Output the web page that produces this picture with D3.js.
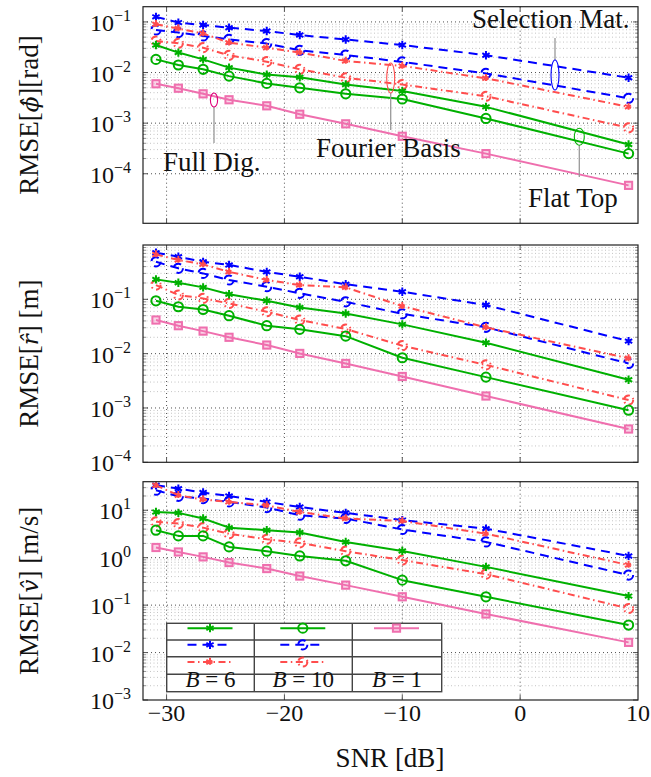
<!DOCTYPE html>
<html>
<head>
<meta charset="utf-8">
<script src="https://cdn.jsdelivr.net/npm/d3@7"></script>
<style>
    body { margin: 0; background: #fff; }
    svg { display: block; }
    text { font-family: "Liberation Serif", "Times New Roman", serif; fill: #111; }
</style>
</head>
<body>
<svg id="chart" width="651" height="777"></svg>
<script>
// SNR points (dB)
var snr = [-30.9, -29, -26.9, -24.7, -21.5, -18.7, -14.8, -10, -2.9, 9.2];

// RMSE of phi [rad]
var phiFlat6 = [0.035, 0.0248, 0.0182, 0.0125, 0.0091, 0.0081, 0.0058, 0.0043, 0.0021, 0.00038];
var phiFlat10 = [0.0182, 0.0141, 0.0116, 0.0085, 0.0061, 0.005, 0.0038, 0.003, 0.00124, 0.00025];
var phiSel6 = [0.126, 0.097, 0.087, 0.077, 0.066, 0.055, 0.045, 0.035, 0.022, 0.0079];
var phiSel10 = [0.0695, 0.0616, 0.0528, 0.0454, 0.0373, 0.0275, 0.0222, 0.0162, 0.0096, 0.0031];
var phiFour6 = [0.09, 0.074, 0.059, 0.039, 0.031, 0.0248, 0.0169, 0.0135, 0.0077, 0.0021];
var phiFour10 = [0.042, 0.0379, 0.031, 0.0219, 0.0164, 0.0116, 0.0079, 0.0058, 0.0034, 0.00081];
var phiFull = [0.006, 0.0049, 0.0038, 0.0029, 0.0022, 0.0015, 0.00097, 0.00055, 0.00025, 0.000059];

// RMSE of r [m]
var rFlat6 = [0.233, 0.202, 0.166, 0.124, 0.094, 0.071, 0.055, 0.0346, 0.0159, 0.0033];
var rFlat10 = [0.094, 0.073, 0.065, 0.05, 0.0327, 0.028, 0.021, 0.0084, 0.0037, 0.00091];
var rSel6 = [0.72, 0.61, 0.49, 0.43, 0.32, 0.26, 0.19, 0.138, 0.0785, 0.017];
var rSel10 = [0.49, 0.372, 0.3, 0.227, 0.171, 0.129, 0.09, 0.054, 0.0305, 0.0066];
var rFour6 = [0.67, 0.53, 0.44, 0.32, 0.227, 0.183, 0.166, 0.075, 0.0305, 0.0082];
var rFour10 = [0.183, 0.12, 0.104, 0.084, 0.059, 0.0416, 0.0284, 0.014, 0.0062, 0.0014];
var rFull = [0.0416, 0.0327, 0.026, 0.02, 0.0144, 0.0101, 0.0066, 0.0038, 0.00166, 0.00041];

// RMSE of v [m/s]
var vFlat6 = [9.2, 8.8, 6.7, 4.3, 3.8, 3.4, 2.15, 1.39, 0.64, 0.155];
var vFlat10 = [3.8, 2.88, 2.88, 1.69, 1.37, 1.09, 0.86, 0.336, 0.15, 0.038];
var vSel6 = [33.6, 28.6, 23.6, 20, 15, 11.7, 8.8, 6.2, 4.1, 1.09];
var vSel10 = [26.4, 19.7, 17.6, 15, 11.4, 7.85, 6.7, 3.93, 2.15, 0.43];
var vFour6 = [33.6, 20.7, 16.8, 15, 12.7, 9.2, 6.7, 5.95, 3.2, 0.7];
var vFour10 = [5.7, 5.25, 4.3, 3.2, 2.45, 2.05, 1.37, 0.89, 0.45, 0.085];
var vFull = [1.64, 1.32, 1.04, 0.79, 0.59, 0.41, 0.264, 0.15, 0.065, 0.0164];

var xTicks = [-30, -20, -10, 0, 10];
var legendLabels = ["B = 6", "B = 10", "B = 1"];

var GREEN = "#00b000", BLUE = "#0000ff", RED = "#ff4d4d", PINK = "#ef6fae";
var DASH = "9,6", DASHDOT = "7,3.5,1.5,3.5";

var style = {
    flat6:  {color: GREEN, dash: null, mark: "ast"},
    flat10: {color: GREEN, dash: null, mark: "circ"},
    sel6:   {color: BLUE, dash: DASH, mark: "ast"},
    sel10:  {color: BLUE, dash: DASH, mark: "circ"},
    four6:  {color: RED, dash: DASHDOT, mark: "ast"},
    four10: {color: RED, dash: DASHDOT, mark: "circ"},
    full:   {color: PINK, dash: null, mark: "sq"}
};

var svg = d3.select("#chart");
var x = d3.scaleLinear().domain([-32, 10]).range([143, 638]);

function sup(sel, base, exp) {
    sel.text(base);
    sel.append("tspan").attr("dy", -10).attr("font-size", 16).text(exp);
}

function drawMark(g, kind, cx, cy, st) {
    var m;
    if (kind === "ast") {
        var r = 4.2, a = r * Math.cos(Math.PI / 6), b = r * Math.sin(Math.PI / 6);
        m = g.append("path")
            .attr("d", "M" + (cx - a) + "," + (cy - b) + "L" + (cx + a) + "," + (cy + b) +
                "M" + (cx - a) + "," + (cy + b) + "L" + (cx + a) + "," + (cy - b) +
                "M" + cx + "," + (cy - r) + "L" + cx + "," + (cy + r))
            .attr("fill", "none");
    } else if (kind === "circ") {
        m = g.append("circle").attr("cx", cx).attr("cy", cy).attr("r", 4.6).attr("fill", "none");
    } else {
        m = g.append("rect").attr("x", cx - 3.6).attr("y", cy - 3.6).attr("width", 7.2).attr("height", 7.2)
            .attr("fill", st.color).attr("fill-opacity", 0.3);
    }
    m.attr("stroke", st.color).attr("stroke-width", 2)
        .attr("stroke-dasharray", st.dash);
}

function drawPanel(p) {
    var y = d3.scaleLog().domain(p.domain).range([p.bottom, p.top]);
    var g = svg.append("g");
    var lo = Math.floor(Math.log10(p.domain[0]) + 1e-9), hi = Math.ceil(Math.log10(p.domain[1]));

    // minor grid + ticks
    var minor = [];
    for (var e = lo; e < hi; e++) {
        if (e < p.minorFrom) continue;
        for (var k = 2; k <= 9; k++) {
            var v = k * Math.pow(10, e);
            if (v < p.domain[1] * 0.999) minor.push(v);
        }
    }
    var major = d3.range(lo, hi).map(function(e) { return Math.pow(10, e); })
        .filter(function(v) { return v <= p.domain[1] && v >= p.domain[0] * 0.999; });

    g.selectAll(".mg").data(minor).enter().append("line")
        .attr("x1", 143).attr("x2", 638)
        .attr("y1", function(d) { return y(d); }).attr("y2", function(d) { return y(d); })
        .attr("stroke", "#b5b5b5").attr("stroke-width", 0.8).attr("stroke-dasharray", "1,2.5");
    g.selectAll(".Mg").data(major.filter(function(v) { return v > p.domain[0] * 1.001; })).enter().append("line")
        .attr("x1", 143).attr("x2", 638)
        .attr("y1", function(d) { return y(d); }).attr("y2", function(d) { return y(d); })
        .attr("stroke", "#222").attr("stroke-width", 0.8).attr("stroke-dasharray", "1,3");
    g.selectAll(".xg").data(xTicks.slice(0, 4)).enter().append("line")
        .attr("x1", function(d) { return x(d); }).attr("x2", function(d) { return x(d); })
        .attr("y1", p.top).attr("y2", p.bottom)
        .attr("stroke", "#222").attr("stroke-width", 0.8).attr("stroke-dasharray", "1,3");

    [143, 638].forEach(function(edge, i) {
        var dir = i === 0 ? 1 : -1;
        g.selectAll(null).data(minor).enter().append("line")
            .attr("x1", edge).attr("x2", edge + dir * 3)
            .attr("y1", function(d) { return y(d); }).attr("y2", function(d) { return y(d); })
            .attr("stroke", "#777").attr("stroke-width", 0.8);
        g.selectAll(null).data(major).enter().append("line")
            .attr("x1", edge).attr("x2", edge + dir * 5)
            .attr("y1", function(d) { return y(d); }).attr("y2", function(d) { return y(d); })
            .attr("stroke", "#555").attr("stroke-width", 1);
    });
    [p.top, p.bottom].forEach(function(edge, i) {
        var dir = i === 0 ? 1 : -1;
        g.selectAll(null).data(xTicks.slice(0, 4)).enter().append("line")
            .attr("x1", function(d) { return x(d); }).attr("x2", function(d) { return x(d); })
            .attr("y1", edge).attr("y2", edge + dir * 5)
            .attr("stroke", "#555").attr("stroke-width", 1);
    });

    // tick labels
    major.forEach(function(v) {
        var e = Math.round(Math.log10(v));
        g.append("text").attr("x", 131).attr("y", y(v) + 9).attr("text-anchor", "end")
            .attr("font-size", 24)
            .call(sup, "10", e < 0 ? "\u2212" + (-e) : String(e));
    });

    // series
    var clipId = "clip" + p.id;
    svg.append("clipPath").attr("id", clipId).append("rect")
        .attr("x", 143).attr("y", p.top).attr("width", 495).attr("height", p.bottom - p.top);
    var sg = g.append("g").attr("clip-path", "url(#" + clipId + ")");
    var line = d3.line().x(function(d, i) { return x(snr[i]); }).y(function(d) { return y(d); });

    p.series.forEach(function(s) {
        var st = style[s.key];
        sg.append("path").datum(s.values).attr("d", line)
            .attr("fill", "none").attr("stroke", st.color).attr("stroke-width", 2)
            .attr("stroke-dasharray", st.dash).attr("stroke-linejoin", "round");
        s.values.forEach(function(v, i) { drawMark(sg, st.mark, x(snr[i]), y(v), st); });
    });

    g.append("rect").attr("x", 143).attr("y", p.top).attr("width", 495).attr("height", p.bottom - p.top)
        .attr("fill", "none").attr("stroke", "#222").attr("stroke-width", 1.2);

    // y label
    var lab = g.append("text")
        .attr("transform", "translate(38," + ((p.top + p.bottom) / 2) + ") rotate(-90)")
        .attr("text-anchor", "middle").attr("font-size", 27);
    lab.append("tspan").text("RMSE[");
    lab.append("tspan").attr("font-style", "italic").attr("font-family", "DejaVu Serif")
        .attr("font-size", 23).text(p.sym);
    lab.append("tspan").text(p.unit);

    return {g: g, y: y};
}

var top1 = drawPanel({
    id: 1, top: 6.7, bottom: 223.3, domain: [1.05e-5, 0.2], minorFrom: -4,
    sym: "\u03d5\u0302", unit: "][rad]",
    series: [
        {key: "sel6", values: phiSel6}, {key: "sel10", values: phiSel10},
        {key: "four6", values: phiFour6}, {key: "four10", values: phiFour10},
        {key: "flat6", values: phiFlat6}, {key: "flat10", values: phiFlat10},
        {key: "full", values: phiFull}
    ]
});
drawPanel({
    id: 2, top: 245, bottom: 462.3, domain: [1e-4, 1], minorFrom: -4,
    sym: "r\u0302", unit: "] [m]",
    series: [
        {key: "sel6", values: rSel6}, {key: "sel10", values: rSel10},
        {key: "four6", values: rFour6}, {key: "four10", values: rFour10},
        {key: "flat6", values: rFlat6}, {key: "flat10", values: rFlat10},
        {key: "full", values: rFull}
    ]
});
drawPanel({
    id: 3, top: 481.7, bottom: 700, domain: [1e-3, 40], minorFrom: -3,
    sym: "v\u0302", unit: "] [m/s]",
    series: [
        {key: "sel6", values: vSel6}, {key: "sel10", values: vSel10},
        {key: "four6", values: vFour6}, {key: "four10", values: vFour10},
        {key: "flat6", values: vFlat6}, {key: "flat10", values: vFlat10},
        {key: "full", values: vFull}
    ]
});

// x tick labels and title
svg.selectAll(".xl").data(xTicks).enter().append("text")
    .attr("x", function(d) { return x(d); }).attr("y", 721)
    .attr("text-anchor", "middle").attr("font-size", 24)
    .text(function(d) { return d < 0 ? "\u2212" + (-d) : d; });
svg.append("text").attr("x", 390).attr("y", 767).attr("text-anchor", "middle")
    .attr("font-size", 27).text("SNR [dB]");

// annotations in the top panel
var ann = top1.g.append("g");
function note(txt, tx, ty, ex, ey, rx, ry, col, l1, l2) {
    ann.append("line").attr("x1", ex).attr("x2", ex).attr("y1", l1).attr("y2", l2)
        .attr("stroke", "#999").attr("stroke-width", 1.3);
    ann.append("ellipse").attr("cx", ex).attr("cy", ey).attr("rx", rx).attr("ry", ry)
        .attr("fill", "none").attr("stroke", col).attr("stroke-width", 1.1);
    ann.append("text").attr("x", tx).attr("y", ty).attr("font-size", 27).text(txt);
}
note("Full Dig.", 163, 170.5, 214, 100, 3.6, 7, "#e0007a", 107, 143);
note("Fourier Basis", 316, 157, 390.7, 78, 4, 15, RED, 93, 130);
note("Selection Mat.", 472, 28.3, 555, 75, 4, 15, BLUE, 38, 60);
note("Flat Top", 528, 206.5, 579.3, 136.7, 5, 8.5, GREEN, 145.2, 177);

// legend table
var lg = svg.append("g");
var cols = [166.7, 254.3, 352.3, 441.7];
var rows = [623.3, 640, 656.7, 674.3, 691.7];
lg.append("rect").attr("x", cols[0]).attr("y", rows[0]).attr("width", cols[3] - cols[0])
    .attr("height", rows[4] - rows[0]).attr("fill", "#fff").attr("stroke", "#444").attr("stroke-width", 1.4);
rows.slice(1, 4).forEach(function(r) {
    lg.append("line").attr("x1", cols[0]).attr("x2", cols[3]).attr("y1", r).attr("y2", r)
        .attr("stroke", "#444").attr("stroke-width", 1.4);
});
cols.slice(1, 3).forEach(function(c) {
    lg.append("line").attr("x1", c).attr("x2", c).attr("y1", rows[0]).attr("y2", rows[4])
        .attr("stroke", "#444").attr("stroke-width", 1.4);
});
var legendCells = [
    ["flat6", "flat10", "full"],
    ["sel6", "sel10", null],
    ["four6", "four10", null]
];
legendCells.forEach(function(row, ri) {
    var cy = (rows[ri] + rows[ri + 1]) / 2 - 3.5;
    row.forEach(function(key, ci) {
        if (!key) return;
        var st = style[key];
        var cx = (cols[ci] + cols[ci + 1]) / 2 - 0.5;
        lg.append("line").attr("x1", cx - 22.5).attr("x2", cx + 22.5).attr("y1", cy).attr("y2", cy)
            .attr("stroke", st.color).attr("stroke-width", 2).attr("stroke-dasharray", st.dash);
        drawMark(lg, st.mark, cx, cy, st);
    });
});
legendLabels.forEach(function(t, ci) {
    var txt = lg.append("text").attr("x", (cols[ci] + cols[ci + 1]) / 2).attr("y", 687)
        .attr("text-anchor", "middle").attr("font-size", 23);
    txt.append("tspan").attr("font-style", "italic").text("B");
    txt.append("tspan").text(t.slice(1));
});
</script>
</body>
</html>
